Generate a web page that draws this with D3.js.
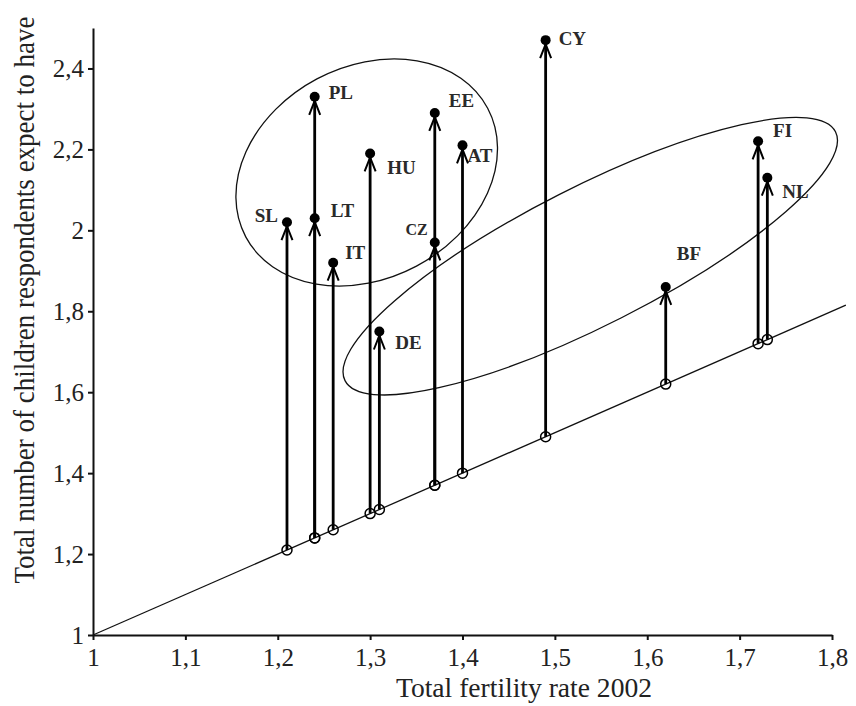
<!DOCTYPE html>
<html>
<head>
<meta charset="utf-8">
<script src="https://cdnjs.cloudflare.com/ajax/libs/d3/7.8.5/d3.min.js"></script>
<style>
	body { margin: 0; background: #fff; }
	svg { display: block; font-family: "Liberation Serif", "Times New Roman", serif; }
	.axis path, .axis line { stroke: #111; stroke-width: 2; }
	.axis text { font-family: "Liberation Serif", "Times New Roman", serif; font-size: 25px; fill: #222; }
	.label { font-weight: bold; font-size: 19px; fill: #2a2a2a; }
</style>
</head>
<body>
<script>
// data
var countries = ['SL', 'PL', 'LT', 'IT', 'HU', 'DE', 'EE', 'CZ', 'AT', 'CY', 'BF', 'FI', 'NL'];
var tfr2002 = [1.21, 1.24, 1.24, 1.26, 1.30, 1.31, 1.37, 1.37, 1.40, 1.49, 1.62, 1.72, 1.73];
var expected = [2.02, 2.33, 2.03, 1.92, 2.19, 1.75, 2.29, 1.97, 2.21, 2.47, 1.86, 2.22, 2.13];
var xTicks = [1, 1.1, 1.2, 1.3, 1.4, 1.5, 1.6, 1.7, 1.8];
var yTicks = [1, 1.2, 1.4, 1.6, 1.8, 2, 2.2, 2.4];
var diagonalExtent = [1, 1.815];

var width = 856, height = 706;

// label placement relative to the dot
var labelPos = {
	SL: { dx: -9, dy: 0, anchor: 'end' },
	PL: { dx: 14, dy: 2 },
	LT: { dx: 16, dy: -1 },
	IT: { dx: 12, dy: -4 },
	HU: { dx: 17, dy: 21 },
	DE: { dx: 16, dy: 17 },
	EE: { dx: 14, dy: -6 },
	CZ: { dx: -7, dy: -7, anchor: 'end', size: 16 },
	AT: { dx: 5, dy: 17 },
	CY: { dx: 13, dy: 5 },
	BF: { dx: 11, dy: -27 },
	FI: { dx: 15, dy: -4 },
	NL: { dx: 15, dy: 20 }
};

// group ellipses: centre in data units, radii in pixels, rotation in degrees
var groups = [
	{ cx: 1.2963, cy: 2.1429, rx: 137, ry: 106, angle: -28 },
	{ cx: 1.5383, cy: 1.9361, rx: 275, ry: 69, angle: -26.9 }
];

var points = countries.map(function(c, i) {
	return { name: c, x: tfr2002[i], y: expected[i] };
});

var svg = d3.select('body').append('svg')
	.attr('width', width)
	.attr('height', height);

var x = d3.scaleLinear().domain([1, 1.8]).range([93, 832]);
var y = d3.scaleLinear().domain([1, 2.5]).range([635, 28]);

function comma(d) { return String(+d.toFixed(1)).replace('.', ','); }

// diagonal y = x
svg.append('line')
	.attr('x1', x(diagonalExtent[0])).attr('y1', y(diagonalExtent[0]))
	.attr('x2', x(diagonalExtent[1])).attr('y2', y(diagonalExtent[1]))
	.attr('stroke', '#111')
	.attr('stroke-width', 1.3);

// ellipses
svg.selectAll('.group').data(groups).enter().append('ellipse')
	.classed('group', true)
	.attr('transform', function(d) { return 'translate(' + x(d.cx) + ',' + y(d.cy) + ') rotate(' + d.angle + ')'; })
	.attr('rx', function(d) { return d.rx; })
	.attr('ry', function(d) { return d.ry; })
	.attr('fill', 'none')
	.attr('stroke', '#111')
	.attr('stroke-width', 1.3);

// axes
svg.append('g')
	.attr('class', 'axis')
	.attr('transform', 'translate(0,' + y(1) + ')')
	.call(d3.axisBottom(x).tickValues(xTicks).tickSize(5).tickSizeOuter(0).tickPadding(6).tickFormat(comma))
	.attr('font-family', null)
	.selectAll('text').attr('dy', '0.8em');

svg.append('g')
	.attr('class', 'axis')
	.attr('transform', 'translate(' + x(1) + ',0)')
	.call(d3.axisLeft(y).tickValues(yTicks).tickSize(5).tickSizeOuter(0).tickPadding(4).tickFormat(comma))
	.attr('font-family', null);

svg.selectAll('.axis .domain').attr('stroke-width', 2);

// arrows
var marks = svg.append('g');

marks.selectAll('.stem').data(points).enter().append('line')
	.attr('x1', function(d) { return x(d.x); })
	.attr('y1', function(d) { return y(d.x); })
	.attr('x2', function(d) { return x(d.x); })
	.attr('y2', function(d) { return y(d.y) + 4; })
	.attr('stroke', '#000')
	.attr('stroke-width', 2.8);

marks.selectAll('.head').data(points).enter().append('path')
	.attr('d', function(d) {
		var px = x(d.x), py = y(d.y);
		return 'M' + (px - 5.5) + ',' + (py + 18) + 'L' + px + ',' + (py + 4) + 'L' + (px + 5.5) + ',' + (py + 18);
	})
	.attr('fill', 'none')
	.attr('stroke', '#000')
	.attr('stroke-width', 2);

marks.selectAll('.start').data(points).enter().append('circle')
	.attr('cx', function(d) { return x(d.x); })
	.attr('cy', function(d) { return y(d.x); })
	.attr('r', 5)
	.attr('fill', 'none')
	.attr('stroke', '#000')
	.attr('stroke-width', 1.5);

marks.selectAll('.end').data(points).enter().append('circle')
	.attr('cx', function(d) { return x(d.x); })
	.attr('cy', function(d) { return y(d.y); })
	.attr('r', 5)
	.attr('fill', '#000');

marks.selectAll('.label').data(points).enter().append('text')
	.classed('label', true)
	.attr('x', function(d) { return x(d.x) + labelPos[d.name].dx; })
	.attr('y', function(d) { return y(d.y) + labelPos[d.name].dy; })
	.attr('text-anchor', function(d) { return labelPos[d.name].anchor || 'start'; })
	.style('font-size', function(d) { return (labelPos[d.name].size || 19) + 'px'; })
	.text(function(d) { return d.name; });

// axis titles
svg.append('text')
	.attr('x', 524)
	.attr('y', 697)
	.attr('text-anchor', 'middle')
	.attr('textLength', 256)
	.attr('lengthAdjust', 'spacingAndGlyphs')
	.style('font-size', '28px')
	.style('fill', '#222')
	.text('Total fertility rate 2002');

svg.append('text')
	.attr('transform', 'translate(34,300) rotate(-90) scale(1,1.1)')
	.attr('text-anchor', 'middle')
	.style('font-size', '27px')
	.style('fill', '#222')
	.text('Total number of children respondents expect to have');
</script>
</body>
</html>
